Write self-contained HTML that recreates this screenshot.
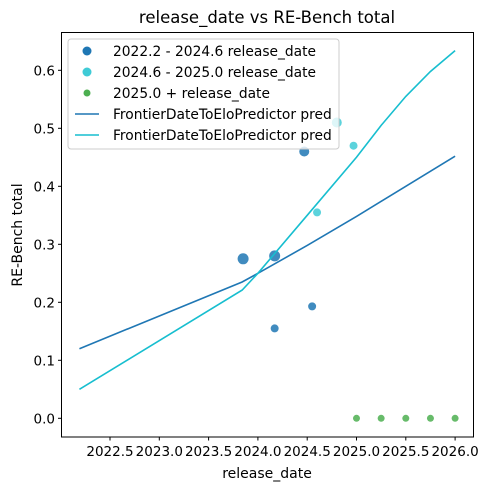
<!DOCTYPE html>
<html><head><meta charset="utf-8"><style>
body{margin:0;background:#fff;}
svg text{font-family:"DejaVu Sans","Liberation Sans",sans-serif;fill:#000;}
</style></head><body>
<svg id="chart" width="488" height="490" xmlns="http://www.w3.org/2000/svg">
<rect width="488" height="490" fill="#fff"/>
<g id="marks"></g>
<rect x="61.5" y="32.5" width="412" height="404.5" fill="none" stroke="#000" stroke-width="1"/>
<g id="axes"></g>
<text x="267" y="23" font-size="16.5" text-anchor="middle">release_date vs RE-Bench total</text>
<text x="267" y="478" font-size="14" text-anchor="middle">release_date</text>
<text transform="translate(22,235) rotate(-90)" font-size="14" text-anchor="middle">RE-Bench total</text>
<g id="legend">
<rect x="68" y="39" width="271" height="110" rx="3" fill="#fff" fill-opacity="0.8" stroke="#ccc"/>
<circle cx="87" cy="51" r="4.5" fill="#1f77b4"/>
<text x="113" y="56" font-size="13.8">2022.2 - 2024.6 release_date</text>
<circle cx="87" cy="72" r="4.5" fill="#3fcbd6"/>
<text x="113" y="77" font-size="13.8">2024.6 - 2025.0 release_date</text>
<circle cx="87" cy="93" r="3.5" fill="#4caf50"/>
<text x="113" y="98" font-size="13.8">2025.0 + release_date</text>
<line x1="75" y1="114" x2="99" y2="114" stroke="#1f77b4" stroke-width="1.5"/>
<text x="113" y="119" font-size="13.8">FrontierDateToEloPredictor pred</text>
<line x1="75" y1="135" x2="99" y2="135" stroke="#17becf" stroke-width="1.5"/>
<text x="113" y="140" font-size="13.8">FrontierDateToEloPredictor pred</text>
</g>
</svg>
<script>
const xTicks=[2022.5,2023.0,2023.5,2024.0,2024.5,2025.0,2025.5,2026.0];
const yTicks=[0.0,0.1,0.2,0.3,0.4,0.5,0.6];
const blueX=[2023.85,2024.17,2024.47,2024.17,2024.55];
const blueY=[0.275,0.28,0.46,0.155,0.193];
const blueR=[5.5,5.5,5,4,4];
const cyanX=[2024.8,2024.6,2024.97];
const cyanY=[0.51,0.355,0.47];
const cyanR=[5,4,4];
const greenX=[2025.0,2025.25,2025.5,2025.75,2026.0];
const greenY=[0,0,0,0,0];
const line1X=[2022.19,2023.84,2024.0,2024.5,2025.0,2025.5,2026.0];
const line1Y=[0.12,0.235,0.25,0.298,0.348,0.4,0.452];
const line2X=[2022.19,2023.84,2024.0,2024.5,2025.0,2025.25,2025.5,2025.75,2026.0];
const line2Y=[0.05,0.221,0.25,0.35,0.45,0.505,0.555,0.598,0.634];
const X=v=>110+(v-2022.5)*98.6;
const Y=v=>418.3-v*580;
const NS="http://www.w3.org/2000/svg";
const marks=document.getElementById('marks'),axes=document.getElementById('axes');
function mk(t,a,p){const e=document.createElementNS(NS,t);for(const k in a)e.setAttribute(k,a[k]);p.appendChild(e);return e;}
xTicks.forEach(v=>{
 const l=mk('line',{x1:X(v),x2:X(v),y1:437,y2:440.5,stroke:'#000'},axes);
 
 
 const t=mk('text',{x:X(v),y:456,'font-size':13.5,'text-anchor':'middle'},axes);t.textContent=v.toFixed(1);
 
 
});
yTicks.forEach(v=>{
 const l=mk('line',{x1:58,x2:61.5,y1:Y(v),y2:Y(v),stroke:'#000'},axes);
 
 
 const t=mk('text',{x:55,y:Y(v)+5,'font-size':13.5,'text-anchor':'end'},axes);t.textContent=v.toFixed(1);
 
 
});
function line(xs,ys,c,n){const p=mk('polyline',{points:xs.map((x,i)=>X(x)+','+Y(ys[i])).join(' '),fill:'none',stroke:c,'stroke-width':1.6},marks);
 
 }
function pts(xs,ys,rs,c,n){xs.forEach((x,i)=>{const e=mk('circle',{cx:X(x),cy:Y(ys[i]),r:rs[i],fill:c,'fill-opacity':0.85},marks);
 
 });}
pts(blueX,blueY,blueR,'#1f77b4','blue-point');
pts(cyanX,cyanY,cyanR,'#3fcbd6','cyan-point');
pts(greenX,greenY,greenX.map(()=>3.5),'#4caf50','green-point');
line(line1X,line1Y,'#1f77b4','pred-line-blue');
line(line2X,line2Y,'#17becf','pred-line-cyan');
</script>
</body></html>
